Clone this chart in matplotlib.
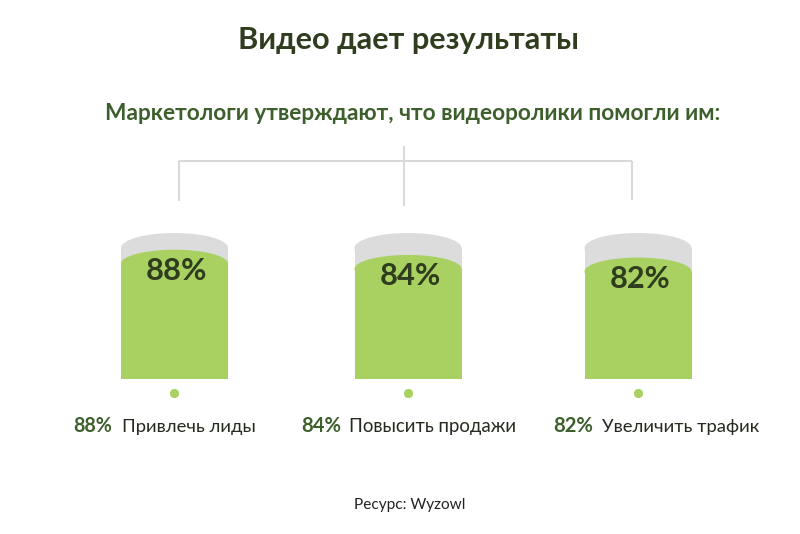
import matplotlib

matplotlib.use("Agg")
import matplotlib.pyplot as plt
from matplotlib.patches import Ellipse, Rectangle

plt.rcParams["font.family"] = ["Lato", "DejaVu Sans"]

title = "Видео дает результаты"
subtitle = "Маркетологи утверждают, что видеоролики помогли им:"
categories = ["Привлечь лиды", "Повысить продажи", "Увеличить трафик"]
values = [88, 84, 82]
source = "Ресурс: Wyzowl"

GREEN = "#a8d162"
GREY = "#dcdcdc"
LINE = "#d9d9d9"
DARK = "#2f3c1e"
MID_GREEN = "#3d5f2c"
TEXT = "#262b1f"

W, H = 800, 534
fig = plt.figure(figsize=(8, 5.34), dpi=100)
ax = fig.add_axes([0, 0, 1, 1])
ax.set_xlim(0, W)
ax.set_ylim(H, 0)
ax.axis("off")

# layout (pixels)
centers = [174.5, 408, 638]
bar_w = 107
base_y = 379
full_h = 131
cap_grey = 15
cap_green = 14

texts = []
for cx, v in zip(centers, values):
    left = cx - bar_w / 2
    top = base_y - full_h
    ax.add_patch(Rectangle((left, top), bar_w, full_h, facecolor=GREY, lw=0))
    ax.add_patch(Ellipse((cx, top), bar_w, 2 * cap_grey, facecolor=GREY, lw=0))
    g_top = base_y - full_h * v / 100
    ax.add_patch(Rectangle((left, g_top), bar_w, base_y - g_top, facecolor=GREEN, lw=0))
    ax.add_patch(Ellipse((cx, g_top), bar_w, 2 * cap_green, facecolor=GREEN, lw=0))
    t = ax.text(cx + 2, g_top + 16, f"{v}%", ha="center", va="baseline",
                fontsize=19, fontweight="bold", color=DARK)
    texts.append((t, 61))

ax.scatter([c - 0.5 for c in centers], [392.5] * len(centers), s=44,
           color=GREEN, lw=0, zorder=3)

# bracket
ax.plot([179, 632], [161, 161], color=LINE, lw=1.5, solid_capstyle="butt")
ax.plot([179, 179], [161, 201], color=LINE, lw=1.5, solid_capstyle="butt")
ax.plot([632, 632], [161, 200], color=LINE, lw=1.5, solid_capstyle="butt")
ax.plot([404, 404], [146, 206], color=LINE, lw=1.5, solid_capstyle="butt")

t = ax.text(408.5, 49, title, ha="center", va="baseline", fontsize=21,
            fontweight="bold", color=DARK)
texts.append((t, 341))
t = ax.text(413, 120, subtitle, ha="center", va="baseline", fontsize=13,
            fontweight="bold", color=MID_GREEN)
texts.append((t, 614))

pct_left = [73, 301, 553]
pct_w = [39, 40, 40]
lab_left = [122, 349, 602]
lab_w = [133, 167, 157]
for v, cat, pl, pw, ll, lw_ in zip(values, categories, pct_left, pct_w, lab_left, lab_w):
    t = ax.text(pl, 432, f"{v}%", ha="left", va="baseline", fontsize=12,
                fontweight="bold", color=MID_GREEN)
    texts.append((t, pw))
    t = ax.text(ll, 432, cat, ha="left", va="baseline", fontsize=12, color=TEXT)
    texts.append((t, lw_))

t = ax.text(409.5, 509, source, ha="center", va="baseline", fontsize=11, color="#222222")
texts.append((t, 111))

# squeeze text to the widths in the reference
fig.canvas.draw()
renderer = fig.canvas.get_renderer()
for t, target in texts:
    bb = t.get_window_extent(renderer)
    t.set_fontsize(t.get_fontsize() * target / bb.width)

fig.savefig("out.png", dpi=100)
